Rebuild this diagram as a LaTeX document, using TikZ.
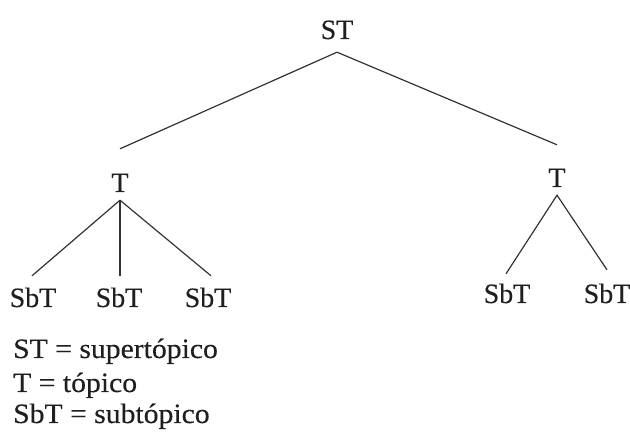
\documentclass[tikz,border=0pt]{standalone}
\usepackage{fontspec}
\setmainfont{Liberation Serif}[FakeBold=0.3]
\newfontfamily\keyfont{Liberation Serif}[FakeStretch=1.06,FakeBold=0.3]
\begin{document}
\begin{tikzpicture}[x=1pt,y=1pt,
  lbl/.style={font=\fontsize{28}{34}\selectfont, text=black!88, inner sep=0pt,
    text height=19pt, text depth=0pt, anchor=base},
  legend/.style={font=\keyfont\fontsize{28}{34}\selectfont, text=black!88, inner sep=0pt, anchor=base west},
  branch/.style={draw=black!80, line width=1.2pt}]
\useasboundingbox (0,0) rectangle (630,441);

% tree labels
\node[lbl] (st) at (337,402) {ST};
\node[lbl] (tl) at (120,249) {T};
\node[lbl] (tr) at (557,254) {T};
\node[lbl] (s1) at (33,134) {SbT};
\node[lbl] (s2) at (119,134) {SbT};
\node[lbl] (s3) at (208,134) {SbT};
\node[lbl] (s4) at (507,138) {SbT};
\node[lbl] (s5) at (607,138) {SbT};

% branches
\draw[branch] ([yshift=24pt]tl.north) -- ([yshift=-13pt]st.south) -- ([yshift=23pt]tr.north);
\draw[branch] ([xshift=-1pt,yshift=12pt]s1.north) -- ([yshift=-8pt]tl.south);
\draw[branch] ([yshift=-8pt]tl.south) -- ([xshift=1pt,yshift=12pt]s2.north);
\draw[branch] ([yshift=-8pt]tl.south) -- ([xshift=3pt,yshift=12pt]s3.north);
\draw[branch] ([xshift=-1pt,yshift=10pt]s4.north) -- ([yshift=-8pt]tr.south) -- ([yshift=14pt]s5.north);

% key
\node[legend] (k1) at (13,83) {ST = supertópico};
\node[legend] (k2) at (13,49) {T = tópico};
\node[legend] (k3) at (13,18) {SbT = subtópico};
\end{tikzpicture}
\end{document}
